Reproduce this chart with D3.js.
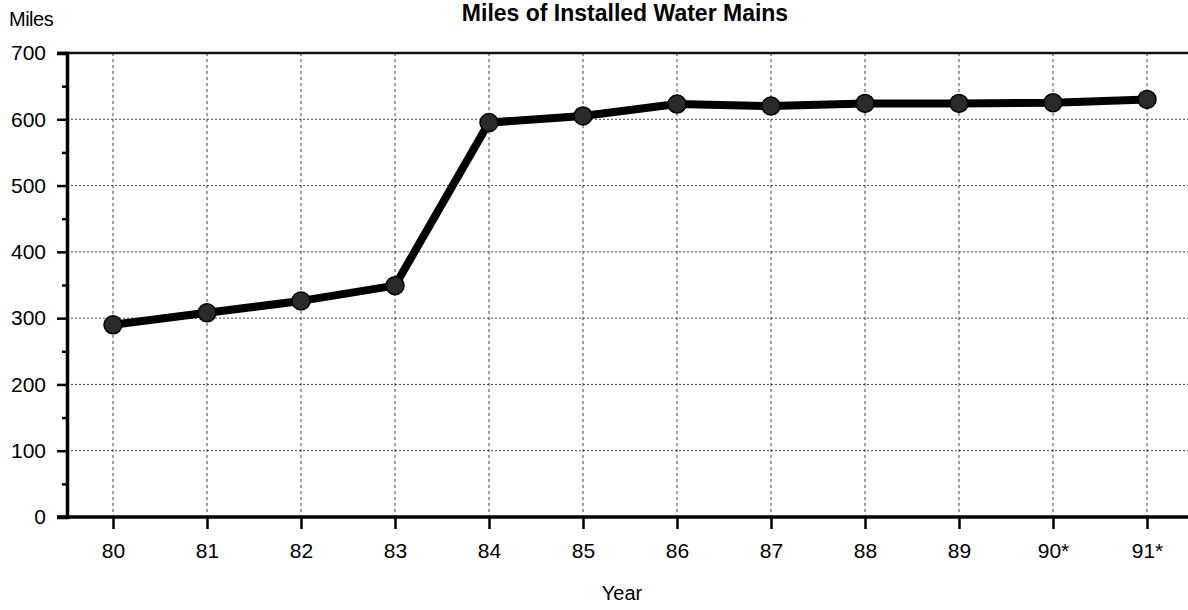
<!DOCTYPE html>
<html><head><meta charset="utf-8">
<script src="https://cdn.jsdelivr.net/npm/d3@7"></script>
<style>
body{margin:0;background:#fff;}
svg{display:block;font-family:"Liberation Sans",Arial,Helvetica,sans-serif;}
</style></head>
<body>
<svg id="chart" width="1188" height="610"></svg>
<script>
const years = ["80","81","82","83","84","85","86","87","88","89","90*","91*"];
const miles = [290, 308, 326, 349, 595, 605, 623, 620, 624, 624, 625, 630];
const yTicks = [0,100,200,300,400,500,600,700];
const minorTicks = [50,150,250,350,450,550,650];

const svg = d3.select("#chart");
const mLeft = 67, mRight = 1195, mTop = 53, mBottom = 517;

const x = d3.scalePoint().domain(years).range([mLeft-1, mRight-1]).padding(0.5);
const y = d3.scaleLinear().domain([0,700]).range([mBottom, mTop]);

// gridlines
svg.append("g").selectAll("line").data(yTicks.slice(1,7)).join("line")
  .attr("x1", mLeft).attr("x2", 1188).attr("y1", d=>y(d)).attr("y2", d=>y(d))
  .attr("stroke","#444").attr("stroke-width",1).attr("stroke-dasharray","2,2");
svg.append("g").selectAll("line").data(years).join("line")
  .attr("x1", d=>x(d)).attr("x2", d=>x(d)).attr("y1", y(700)).attr("y2", y(0))
  .attr("stroke","#444").attr("stroke-width",1).attr("stroke-dasharray","3,3");

// top border
svg.append("line").attr("x1", mLeft-10).attr("x2",1188).attr("y1",y(700)).attr("y2",y(700))
  .attr("stroke","#111").attr("stroke-width",2.5);

// Y axis
const yAxis = d3.axisLeft(y).tickValues(yTicks).tickSize(10).tickPadding(11).tickFormat(d3.format("d"));
const gy = svg.append("g").attr("transform",`translate(${mLeft},0)`).call(yAxis);
gy.select(".domain").attr("stroke","#000").attr("stroke-width",3.5);
gy.selectAll(".tick line").attr("stroke","#000").attr("stroke-width",2.5);
gy.selectAll("text").attr("font-size",21).attr("fill","#000");
const yMinor = d3.axisLeft(y).tickValues(minorTicks).tickSize(5).tickFormat("");
const gym = svg.append("g").attr("transform",`translate(${mLeft},0)`).call(yMinor);
gym.select(".domain").remove();
gym.selectAll(".tick line").attr("stroke","#000").attr("stroke-width",2.5);

// X axis
const xAxis = d3.axisBottom(x).tickSize(12).tickPadding(14);
const gx = svg.append("g").attr("transform",`translate(0,${mBottom})`).call(xAxis);
gx.select(".domain").attr("d",`M${mLeft-10},0H1188`).attr("stroke","#000").attr("stroke-width",3.5);
gx.selectAll(".tick line").attr("stroke","#000").attr("stroke-width",2.5);
gx.selectAll("text").attr("font-size",21).attr("fill","#000");

// line
const line = d3.line().x((d,i)=>x(years[i])).y(d=>y(d));
svg.append("path").datum(miles).attr("d",line).attr("fill","none")
  .attr("stroke","#000").attr("stroke-width",8).attr("stroke-linejoin","round");
svg.append("g").selectAll("circle").data(miles).join("circle")
  .attr("cx",(d,i)=>x(years[i])).attr("cy",d=>y(d)).attr("r",9)
  .attr("fill","#2a2a2a").attr("stroke","#000").attr("stroke-width",1.5);

// titles
svg.append("text").attr("x",625).attr("y",21).attr("text-anchor","middle")
  .attr("font-size",23).attr("font-weight","bold").text("Miles of Installed Water Mains");
svg.append("text").attr("x",9).attr("y",26).attr("font-size",20).attr("letter-spacing","-0.5").text("Miles");
svg.append("text").attr("x",622).attr("y",600).attr("text-anchor","middle").attr("font-size",20).text("Year");
</script>
</body></html>
